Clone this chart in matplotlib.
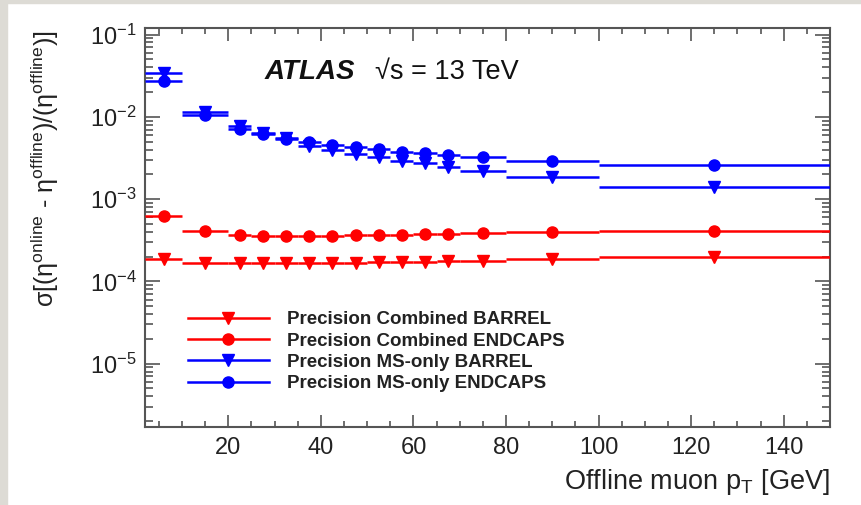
#!/usr/bin/env python3
"""
Trigger muon eta resolution vs offline pT (ATLAS style).
"""

import matplotlib
matplotlib.use("Agg")
import matplotlib.pyplot as plt
from matplotlib.lines import Line2D
from matplotlib.ticker import LogLocator, MultipleLocator, NullFormatter

# bin centres and half-widths [GeV]
pt_center = [6, 15, 22.5, 27.5, 32.5, 37.5, 42.5, 47.5, 52.5, 57.5, 62.5, 67.5, 75, 90, 125]
pt_halfwidth = [4, 5, 2.5, 2.5, 2.5, 2.5, 2.5, 2.5, 2.5, 2.5, 2.5, 2.5, 5, 10, 25]

comb_barrel = [1.89e-4, 1.69e-4, 1.67e-4, 1.66e-4, 1.66e-4, 1.67e-4, 1.68e-4, 1.69e-4,
               1.70e-4, 1.71e-4, 1.73e-4, 1.76e-4, 1.78e-4, 1.85e-4, 2.0e-4]
comb_endcaps = [6.3e-4, 4.1e-4, 3.7e-4, 3.6e-4, 3.55e-4, 3.55e-4, 3.58e-4, 3.62e-4,
                3.65e-4, 3.7e-4, 3.75e-4, 3.8e-4, 3.88e-4, 4.0e-4, 4.15e-4]
ms_barrel = [3.4e-2, 1.15e-2, 7.7e-3, 6.4e-3, 5.5e-3, 4.4e-3, 3.9e-3, 3.55e-3,
             3.22e-3, 2.94e-3, 2.72e-3, 2.48e-3, 2.21e-3, 1.84e-3, 1.40e-3]
ms_endcaps = [2.75e-2, 1.05e-2, 7.2e-3, 6.2e-3, 5.4e-3, 4.9e-3, 4.56e-3, 4.25e-3,
              4.1e-3, 3.78e-3, 3.6e-3, 3.44e-3, 3.28e-3, 2.9e-3, 2.6e-3]

series = [
    ("Precision Combined BARREL", comb_barrel, "#ff0000", "v"),
    ("Precision Combined ENDCAPS", comb_endcaps, "#ff0000", "o"),
    ("Precision MS-only BARREL", ms_barrel, "#0000ff", "v"),
    ("Precision MS-only ENDCAPS", ms_endcaps, "#0000ff", "o"),
]

FONT = "Liberation Sans"
plt.rcParams["font.family"] = [FONT, "DejaVu Sans"]
plt.rcParams["mathtext.fontset"] = "custom"
plt.rcParams["mathtext.rm"] = FONT
plt.rcParams["mathtext.it"] = FONT + ":italic"
plt.rcParams["mathtext.bf"] = FONT + ":bold"

fig = plt.figure(figsize=(8.62, 5.05), dpi=100)
fig.patch.set_facecolor("white")
# grey frame strips of the screenshot
fig.patches.append(plt.Rectangle((0, 0), 7 / 862, 1, transform=fig.transFigure,
                                 color="#dddbd5", zorder=0))
fig.patches.append(plt.Rectangle((0, 1 - 3 / 505), 1, 3 / 505, transform=fig.transFigure,
                                 color="#dddbd5", zorder=0))

ax = fig.add_axes([145 / 862, 1 - 427 / 505, 685 / 862, 399 / 505])

handles = []
for label, vals, color, marker in series:
    ax.errorbar(pt_center, vals, xerr=pt_halfwidth, fmt=marker, color=color,
                ecolor=color, elinewidth=1.8, markersize=8, capsize=0, zorder=3)
    handles.append(Line2D([], [], color=color, marker=marker, markersize=8,
                          linewidth=1.8, label=label))

ax.set_yscale("log")
ax.set_xlim(2, 150)
ax.set_ylim(1.7e-6, 0.12)

ax.xaxis.set_major_locator(MultipleLocator(20))
ax.xaxis.set_minor_locator(MultipleLocator(5))
ax.yaxis.set_major_locator(LogLocator(base=10, numticks=20))
ax.yaxis.set_minor_locator(LogLocator(base=10, subs=range(2, 10), numticks=20))
ax.yaxis.set_minor_formatter(NullFormatter())

ax.tick_params(which="both", direction="in", top=True, right=True, colors="#555555",
               labelcolor="#222222", labelsize=17, width=1.2)
ax.tick_params(axis="x", which="major", length=9, pad=7)
ax.tick_params(axis="x", which="minor", length=4.5)
ax.tick_params(axis="y", which="major", length=11, pad=6)
ax.tick_params(axis="y", which="minor", length=5.5)
for sp in ax.spines.values():
    sp.set_color("#555555")
    sp.set_linewidth(1.5)

ax.set_xticks([20, 40, 60, 80, 100, 120, 140])

fig.text(830 / 862, 1 - 482 / 505, r"Offline muon p$_{\mathrm{T}}$ [GeV]", ha="right",
         va="center", fontsize=19.5, color="#222222")
fig.text(45 / 862, 1 - 169 / 505,
         r"σ[(η$^{\mathrm{online}}$ - η$^{\mathrm{offline}}$)/(η$^{\mathrm{offline}}$)]",
         rotation=90, ha="center", va="center", fontsize=18, color="#222222")

ax.text(265 / 862, 1 - 72 / 505, "ATLAS", transform=fig.transFigure, fontsize=20,
        fontweight="bold", fontstyle="italic", va="center", ha="left", color="#111111")
ax.text(375 / 862, 1 - 72 / 505, "√s = 13 TeV", transform=fig.transFigure, fontsize=19.5,
        va="center", ha="left", color="#111111")

leg = ax.legend(handles=handles, loc="upper left", bbox_to_anchor=(0.063, 0.29),
                frameon=False, handlelength=4.3, handletextpad=0.95, labelspacing=0.22,
                borderpad=0, borderaxespad=0, prop={"family": FONT, "weight": "bold", "size": 13.5})
for t in leg.get_texts():
    t.set_color("#222222")

fig.savefig("out.png", dpi=100)
